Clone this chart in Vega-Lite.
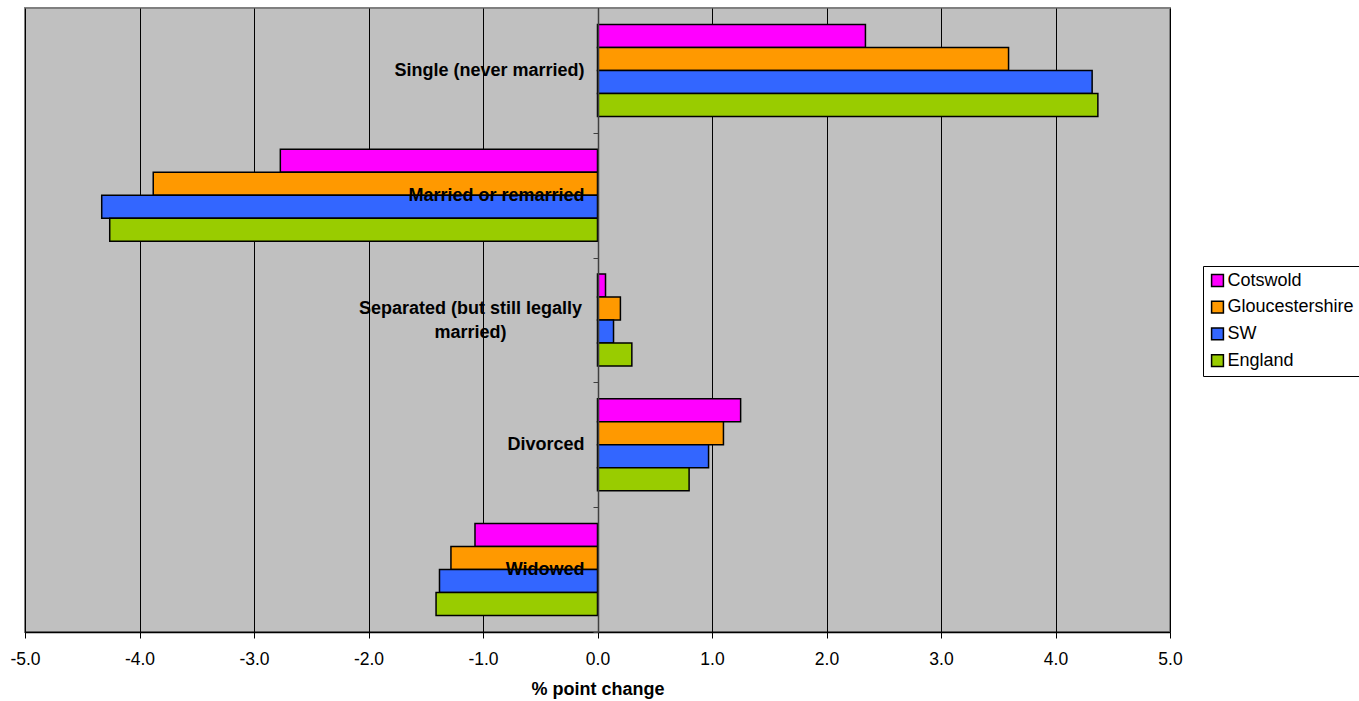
{
  "$schema": "https://vega.github.io/schema/vega-lite/v6.json",
  "width": 1145,
  "height": 624,
  "autosize": {"type": "none"},
  "padding": {"left": 25, "top": 8, "right": 189, "bottom": 69},
  "background": "white",
  "config": {
    "font": "Liberation Sans",
    "view": {"fill": "#C0C0C0", "stroke": "#808080", "strokeWidth": 2}
  },
  "data": {
    "values": [
      {"status": "Single (never married)", "area": "Cotswold", "change": 2.34},
      {"status": "Single (never married)", "area": "Gloucestershire", "change": 3.59},
      {"status": "Single (never married)", "area": "SW", "change": 4.32},
      {"status": "Single (never married)", "area": "England", "change": 4.37},
      {"status": "Married or remarried", "area": "Cotswold", "change": -2.77},
      {"status": "Married or remarried", "area": "Gloucestershire", "change": -3.88},
      {"status": "Married or remarried", "area": "SW", "change": -4.33},
      {"status": "Married or remarried", "area": "England", "change": -4.26},
      {"status": "Separated (but still legally married)", "area": "Cotswold", "change": 0.07},
      {"status": "Separated (but still legally married)", "area": "Gloucestershire", "change": 0.2},
      {"status": "Separated (but still legally married)", "area": "SW", "change": 0.14},
      {"status": "Separated (but still legally married)", "area": "England", "change": 0.3},
      {"status": "Divorced", "area": "Cotswold", "change": 1.25},
      {"status": "Divorced", "area": "Gloucestershire", "change": 1.1},
      {"status": "Divorced", "area": "SW", "change": 0.97},
      {"status": "Divorced", "area": "England", "change": 0.8},
      {"status": "Widowed", "area": "Cotswold", "change": -1.07},
      {"status": "Widowed", "area": "Gloucestershire", "change": -1.28},
      {"status": "Widowed", "area": "SW", "change": -1.38},
      {"status": "Widowed", "area": "England", "change": -1.41}
    ]
  },
  "mark": {"type": "bar", "stroke": "black", "strokeWidth": 1.5},
  "encoding": {
    "y": {
      "field": "status",
      "type": "nominal",
      "sort": ["Single (never married)", "Married or remarried", "Separated (but still legally married)", "Divorced", "Widowed"],
      "scale": {"paddingInner": 0.263, "paddingOuter": 0.1315},
      "axis": {
        "title": null,
        "orient": "left",
        "offset": -573,
        "zindex": 1,
        "domainColor": "#404040",
        "domainWidth": 1.5,
        "tickOffset": 62.4,
        "tickColor": "#404040",
        "tickSize": 5,
        "labelFont": "Liberation Sans",
        "labelFontSize": 18,
        "labelFontWeight": "bold",
        "labelColor": "black",
        "labelAlign": {"condition": {"test": "datum.value == 'Separated (but still legally married)'", "value": "center"}, "value": "right"},
        "labelPadding": {"condition": {"test": "datum.value == 'Separated (but still legally married)'", "value": 123}, "value": 9},
        "labelOffset": {"condition": {"test": "datum.value == 'Separated (but still legally married)'", "value": -74.4}, "value": -62.4},
        "labelLimit": 400,
        "labelLineHeight": 24,
        "labelExpr": "datum.label == 'Separated (but still legally married)' ? ['Separated (but still legally', 'married)'] : datum.label"
      }
    },
    "yOffset": {
      "field": "area",
      "type": "nominal",
      "sort": ["Cotswold", "Gloucestershire", "SW", "England"]
    },
    "x": {
      "field": "change",
      "type": "quantitative",
      "scale": {"domain": [-5, 5], "nice": false},
      "axis": {
        "title": "% point change",
        "titleFontSize": 18,
        "titleFontWeight": "bold",
        "titleColor": "black",
        "titlePadding": 13,
        "values": [-5, -4, -3, -2, -1, 0, 1, 2, 3, 4, 5],
        "labelExpr": "(datum.value < 0 ? '-' : '') + format(abs(datum.value), '.1f')",
        "labelFlush": false,
        "labelOverlap": false,
        "labelFontSize": 17.5,
        "labelColor": "black",
        "labelPadding": 12,
        "domainColor": "black",
        "domainWidth": 1.5,
        "tickColor": "black",
        "tickSize": 6,
        "grid": true,
        "gridColor": "black",
        "gridOpacity": 1,
        "gridWidth": 1
      }
    },
    "color": {
      "field": "area",
      "type": "nominal",
      "sort": ["Cotswold", "Gloucestershire", "SW", "England"],
      "scale": {
        "domain": ["Cotswold", "Gloucestershire", "SW", "England"],
        "range": ["#FF00FF", "#FF9900", "#3366FF", "#99CC00"]
      },
      "legend": {
        "title": null,
        "orient": "none",
        "legendX": 1178,
        "legendY": 258,
        "fillColor": "white",
        "strokeColor": "black",
        "padding": 5.5,
        "symbolType": "square",
        "symbolSize": 140,
        "symbolStrokeColor": "black",
        "symbolStrokeWidth": 1.5,
        "symbolOpacity": 1,
        "labelFontSize": 18,
        "labelColor": "black",
        "labelOffset": 1,
        "rowPadding": 8.7
      }
    }
  }
}
